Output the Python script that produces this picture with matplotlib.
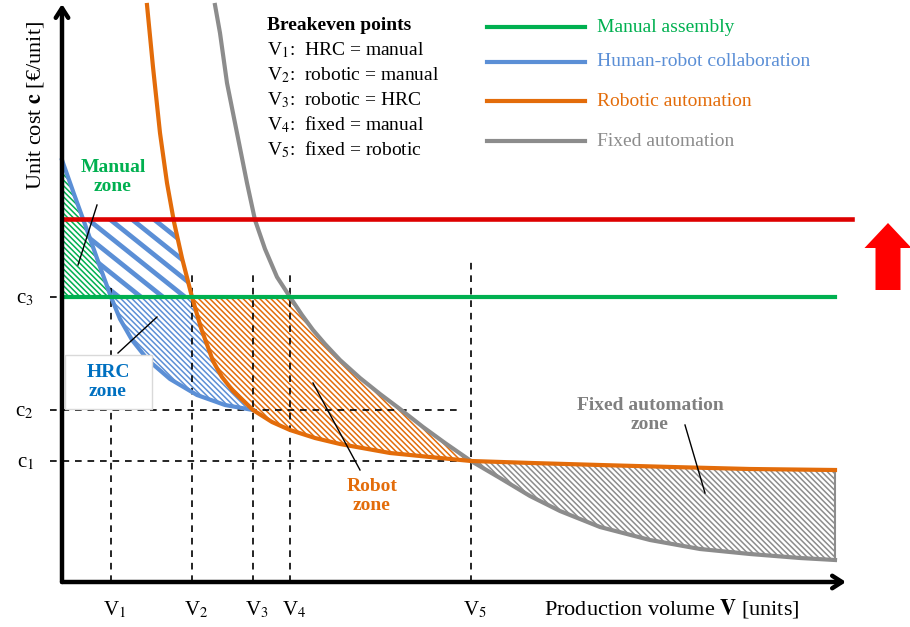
import numpy as np
import matplotlib.pyplot as plt
from matplotlib.patches import FancyArrow, Rectangle

# 글꼴: Times 계열 (Liberation Serif), 수식은 stix
plt.rcParams['font.family'] = ['Liberation Serif', 'DejaVu Serif']
plt.rcParams['mathtext.fontset'] = 'stix'
plt.rcParams['hatch.linewidth'] = 1.1

# 손익분기 생산량 V1..V5
V1, V2, V3, V4, V5 = 49, 130, 191, 228, 409
# 단가 수준 c1..c3, 목표 단가(빨간 선)
c1, c2, c3 = 121, 172, 285
c_target = 363

# 인간-로봇 협업 (HRC) 비용 곡선
hrc_v = [0, 12, 25, 37, 49, 58, 70, 86, 108, 135, 163, 191]
hrc_c = [422, 388, 352, 318, 285, 263, 242, 222, 203, 187, 177, 172]
# 로봇 자동화 비용 곡선
robot_v = [85, 91, 98, 105, 112, 120, 130, 139, 151, 160, 171, 191, 210, 228, 253, 278,
           328, 378, 409, 470, 538, 610, 688, 773]
robot_c = [577, 515, 449, 399, 360, 324, 285, 254, 221, 205, 191, 172, 160, 152, 144, 138,
           129, 124, 121, 119, 117, 115, 113, 112]
# 고정 자동화 비용 곡선
fixed_v = [153, 158, 165, 175, 185, 193, 203, 215, 228, 240, 251, 263, 278, 298, 318, 338,
           361, 383, 409, 438, 468, 498, 538, 588, 638, 688, 738, 773]
fixed_c = [577, 549, 499, 449, 399, 362, 333, 305, 285, 267, 252, 238, 222, 204, 188, 173,
           155, 139, 121, 104, 86, 71, 55, 42, 33, 28, 24, 22]
# 수작업 조립 비용 (일정)
manual_v = [0, 773]
manual_c = [c3, c3]

GREEN = '#00B050'
BLUE = '#5B8FD6'
ORANGE = '#E36C0A'
GRAY = '#8C8C8C'
RED = '#DD0000'
HATCH = '\\' * 6

fig = plt.figure(figsize=(9.1, 6.27), dpi=100)
ax = fig.add_axes([0, 0, 1, 1])
ax.set_xlim(-62, 848)
ax.set_ylim(-45, 582)
ax.axis('off')


def f(x, v, c):
    return np.interp(x, v, c)


def inv(y, v, c):
    return np.interp(y, c[::-1], v[::-1])


def grid(a, b, *vs):
    pts = [a, b]
    for v in vs:
        pts += [p for p in v if a <= p <= b]
    return np.unique(pts)


# 수작업 영역
xs = grid(0, V1, hrc_v)
ax.fill_between(xs, c3, f(xs, hrc_v, hrc_c), facecolor='none', edgecolor=GREEN,
                hatch=HATCH, lw=1.5, zorder=1)

# HRC 영역 (c3 위쪽, 굵은 줄무늬)
x_a = inv(c_target, hrc_v, hrc_c)
x_b = inv(c_target, robot_v, robot_c)
xs = grid(x_a, V2, hrc_v, robot_v, [V1, x_b])
lo = np.maximum(c3, f(xs, hrc_v, hrc_c))
hi = np.minimum(c_target, f(xs, robot_v, robot_c))
poly = ax.fill_between(xs, lo, hi, where=hi >= lo, facecolor='none', edgecolor='none', zorder=1)
clip = poly.get_paths()[0]
for k in np.arange(-100, 600, 22):
    ln, = ax.plot([k, k + 400], [c_target + 30, c_target + 30 - 0.8 * 400], color=BLUE, lw=3.4,
                  zorder=1.5, solid_capstyle='butt')
    ln.set_clip_path(clip, ax.transData)

# HRC 영역 (c3 아래쪽)
xs = grid(V1, V3, hrc_v, robot_v)
lo = f(xs, hrc_v, hrc_c)
hi = np.minimum(c3, f(xs, robot_v, robot_c))
ax.fill_between(xs, lo, hi, where=hi >= lo, facecolor='none', edgecolor=BLUE,
                hatch=HATCH, lw=1.5, zorder=1)

# 로봇 영역
xs = grid(V2, V5, robot_v, fixed_v)
lo = f(xs, robot_v, robot_c)
hi = np.minimum(c3, f(xs, fixed_v, fixed_c))
ax.fill_between(xs, lo, hi, where=hi >= lo, facecolor='none', edgecolor=ORANGE,
                hatch=HATCH, lw=1.5, zorder=1)

# 고정 자동화 영역
xs = grid(V5, 773, robot_v, fixed_v)
ax.fill_between(xs, f(xs, fixed_v, fixed_c), f(xs, robot_v, robot_c), facecolor='none',
                edgecolor=GRAY, hatch=HATCH, lw=1.5, zorder=1)

# 보조 점선
dash = dict(color='black', lw=1.2, ls=(0, (4, 3.5)), zorder=2)
for v, top in zip([V1, V2, V3, V4, V5], [294, 307, 307, 307, 320]):
    ax.plot([v, v], [0, top], **dash)
for c, right in zip([c3, c2, c1], [V4, 396, V5]):
    ax.plot([-12, right], [c, c], **dash)

# 비용 곡선
ax.plot(hrc_v, hrc_c, color=BLUE, lw=3, zorder=3, solid_joinstyle='round')
ax.plot(robot_v, robot_c, color=ORANGE, lw=3, zorder=3.2, solid_joinstyle='round')
ax.plot(fixed_v, fixed_c, color=GRAY, lw=3, zorder=3.1, solid_joinstyle='round')
ax.plot(manual_v, manual_c, color=GREEN, lw=3, zorder=3.5)
ax.plot([0, 790], [c_target, c_target], color=RED, lw=3.3, zorder=4)

# 축 화살표
arr = dict(arrowstyle='->,head_length=0.7,head_width=0.45', lw=3.2, color='black',
           shrinkA=0, shrinkB=0)
ax.annotate('', xy=(0, 578), xytext=(0, 0), arrowprops=arr, zorder=5)
ax.annotate('', xy=(784, 0), xytext=(0, 0), arrowprops=arr, zorder=5)

# 빨간 화살표
ax.add_patch(FancyArrow(826, 292, 0, 67, width=25, head_width=47, head_length=25,
                        length_includes_head=True, color='#FF0000', lw=0, zorder=5))

# 축 라벨
ax.text(-26, 477, r'Unit cost $\mathbf{c}$ [€/unit]', rotation=90, ha='center', va='center',
        fontsize=16)
ax.text(610, -27, r'Production volume $\mathbf{V}$ [units]', ha='center', va='center',
        fontsize=16)
for i, v in enumerate([V1, V2, V3, V4, V5]):
    ax.text(v + 4, -28, 'V$_{%d}$' % (i + 1), ha='center', va='center', fontsize=15)
for i, c in zip([3, 2, 1], [c3, c2, c1]):
    ax.text(-28, c - 2, 'c$_{%d}$' % i, ha='right', va='center', fontsize=15)

# 손익분기점 설명
ax.text(205, 557, 'Breakeven points', fontsize=14, fontweight='bold', va='center')
notes = ['HRC = manual', 'robotic = manual', 'robotic = HRC', 'fixed = manual', 'fixed = robotic']
for i, s in enumerate(notes):
    ax.text(205, 532 - 25 * i, 'V$_{%d}$:  %s' % (i + 1, s), fontsize=14, va='center')

# 범례
for i, (lab, col) in enumerate(zip(['Manual assembly', 'Human-robot collaboration',
                                    'Robotic automation', 'Fixed automation'],
                                   [GREEN, BLUE, ORANGE, GRAY])):
    y = [555, 520, 481, 441][i]
    ax.plot([425, 523], [y, y], color=col, lw=3)
    ax.text(535, y, lab, color=col, fontsize=14, va='center')

# 영역 라벨
lab = dict(fontsize=14, fontweight='bold', ha='center', va='center', linespacing=1.1, zorder=6)
ax.text(51, 405, 'Manual\nzone', color=GREEN, **lab)
ax.plot([35, 16], [377, 317], color='black', lw=1, zorder=6)
ax.add_patch(Rectangle((3, 173), 87, 54, facecolor='white', edgecolor='#D9D9D9', lw=1, zorder=5.5))
ax.text(46, 200, 'HRC\nzone', color='#0070C0', **lab)
ax.plot([56, 95], [229, 265], color='black', lw=1, zorder=6)
ax.text(310, 86, 'Robot\nzone', color=ORANGE, **lab)
ax.plot([251, 298], [199, 112], color='black', lw=1, zorder=6)
ax.text(588, 167, 'Fixed automation\nzone', color='#808080', **lab)
ax.plot([623, 643], [157, 89], color='black', lw=1, zorder=6)

plt.savefig('out.png', dpi=100, facecolor='white')
